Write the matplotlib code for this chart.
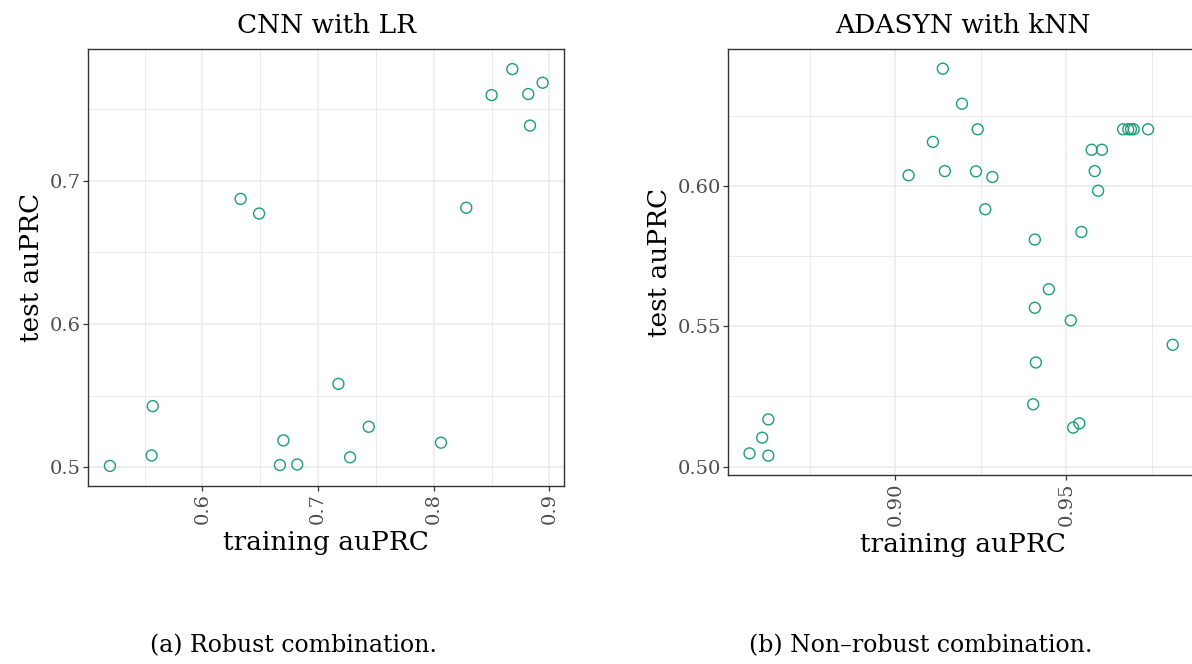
import numpy as np
import matplotlib
matplotlib.use("Agg")
import matplotlib.pyplot as plt
from matplotlib.ticker import FixedLocator

plt.rcParams['font.family'] = ['DejaVu Serif']

# CNN with LR (robust combination)
cnn_train = [0.520, 0.556, 0.557, 0.633, 0.649, 0.667, 0.670, 0.682, 0.7176,
             0.7277, 0.7438, 0.8063, 0.8282, 0.8501, 0.868, 0.8818, 0.8833, 0.8942]
cnn_test = [0.501, 0.5083, 0.5427, 0.6872, 0.677, 0.5016, 0.5188, 0.502, 0.5582,
            0.507, 0.5283, 0.5172, 0.681, 0.7596, 0.7777, 0.7603, 0.7383, 0.7682]

# ADASYN with kNN (non-robust combination)
ada_train = [0.8574, 0.8611, 0.8629, 0.8629, 0.9039, 0.911, 0.9145, 0.9139, 0.9195,
             0.9241, 0.9236, 0.9284, 0.9263, 0.9408, 0.9449, 0.9408, 0.9513, 0.9411,
             0.9403, 0.952, 0.9538, 0.9544, 0.9593, 0.9583, 0.9574, 0.9604, 0.9666,
             0.9681, 0.9689, 0.9697, 0.9739, 0.9811]
ada_test = [0.5047, 0.5103, 0.5168, 0.5039, 0.6038, 0.6157, 0.6053, 0.6418, 0.6293,
            0.6202, 0.6052, 0.6032, 0.5917, 0.5809, 0.5632, 0.5566, 0.5521, 0.5371,
            0.5222, 0.5139, 0.5154, 0.5836, 0.5983, 0.6053, 0.6129, 0.6129, 0.6202,
            0.6202, 0.6202, 0.6202, 0.6202, 0.5434]

titles = ["CNN with LR", "ADASYN with kNN"]
captions = ["(a) Robust combination.", "(b) Non\u2013robust combination."]

green = "#1B9E77"
grid_col = "#EBEBEB"
border = "#333333"

fig = plt.figure(figsize=(11.92, 6.64), dpi=100)
ax1 = fig.add_axes([88.3/1192, (664-485.7)/664, 475.7/1192, 436.4/664])
# second panel runs a little past the right edge of the figure
ax2 = fig.add_axes([728.3/1192, (664-475)/664, 468.7/1192, 425.7/664])


def style(ax, xmaj, xmin, ymaj, ymin, fmt):
    ax.xaxis.set_major_locator(FixedLocator(xmaj))
    ax.xaxis.set_minor_locator(FixedLocator(xmin))
    ax.yaxis.set_major_locator(FixedLocator(ymaj))
    ax.yaxis.set_minor_locator(FixedLocator(ymin))
    ax.set_xticklabels([fmt % v for v in xmaj], rotation=90)
    ax.set_yticklabels([fmt % v for v in ymaj])
    ax.grid(which='major', color=grid_col, lw=1.2)
    ax.grid(which='minor', color=grid_col, lw=0.7)
    ax.set_axisbelow(True)
    ax.tick_params(which='major', length=3.5, width=0.9, color=border,
                   labelsize=14, labelcolor='#4D4D4D', pad=2)
    ax.tick_params(which='minor', length=0)
    for s in ax.spines.values():
        s.set_color(border)
        s.set_linewidth(1.0)
    ax.set_xlabel("training auPRC", fontsize=19, labelpad=4)
    ax.set_ylabel("test auPRC", fontsize=19, labelpad=4)


ax1.scatter(cnn_train, cnn_test, s=62, facecolors='none', edgecolors=green, linewidths=1.0)
ax1.set_xlim(0.5013, 0.9127)
ax1.set_ylim(0.4872, 0.7915)
style(ax1, [0.6, 0.7, 0.8, 0.9], [0.55, 0.65, 0.75, 0.85],
      [0.5, 0.6, 0.7], [0.55, 0.65, 0.75], "%.1f")
ax1.set_title(titles[0], fontsize=19, pad=12)

ax2.scatter(ada_train, ada_test, s=62, facecolors='none', edgecolors=green, linewidths=1.0)
ax2.set_xlim(0.8512, 0.9882)
ax2.set_ylim(0.497, 0.6487)
style(ax2, [0.90, 0.95], [0.875, 0.925, 0.975],
      [0.50, 0.55, 0.60], [0.525, 0.575, 0.625], "%.2f")
ax2.set_title(titles[1], fontsize=19, pad=12)

fig.text(293/1192, 1 - 646/664, captions[0], fontsize=17, ha='center', va='center')
fig.text(921/1192, 1 - 646/664, captions[1], fontsize=17, ha='center', va='center')

fig.savefig("out.png", dpi=100)
